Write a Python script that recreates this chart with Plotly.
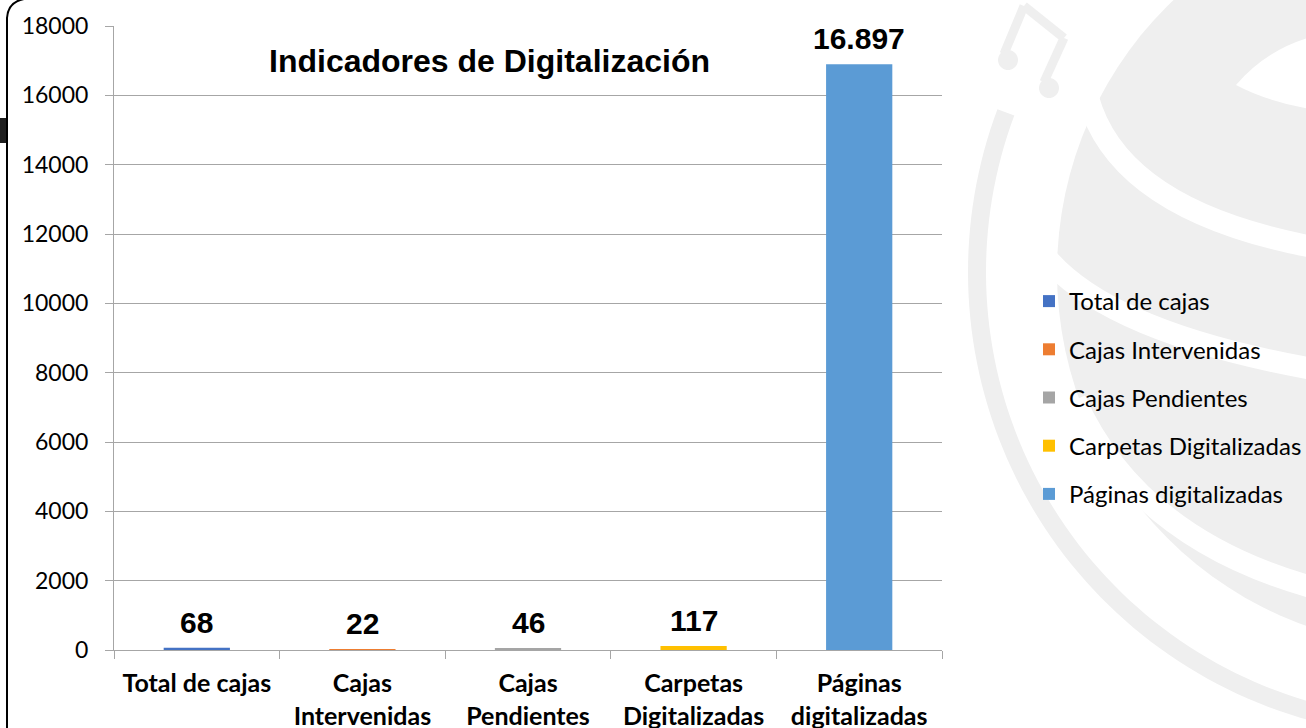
import math
import plotly.graph_objects as go

# ---------------- data ----------------
categories = ["Total de cajas", "Cajas Intervenidas", "Cajas Pendientes",
              "Carpetas Digitalizadas", "Páginas digitalizadas"]
tick_text = ["Total de cajas", "Cajas<br>Intervenidas", "Cajas<br>Pendientes",
             "Carpetas<br>Digitalizadas", "Páginas<br>digitalizadas"]
values = [68, 22, 46, 117, 16897]
colors = ["#4472C4", "#ED7D31", "#A5A5A5", "#FFC000", "#5B9BD5"]
title_text = "Indicadores de Digitalización"

# ---------------- geometry helpers (figure pixels -> paper) ----------------
W, H = 1306, 728
ML, MR, MT, MB = 114, 364, 26, 78
PW, PH = W - ML - MR, H - MT - MB


def px(x):
    return (x - ML) / PW


def py(y):
    return (H - MB - y) / PH


def pth(cmds):
    out = []
    for c in cmds:
        if isinstance(c, str):
            out.append(c)
        else:
            out.append(f"{px(c[0]):.5f},{py(c[1]):.5f}")
    return " ".join(out)


def circle_path(cx, cy, r, n=120):
    cmds = []
    for i in range(n):
        a = 2 * math.pi * i / n
        cmds += ["M" if i == 0 else "L", (cx + r * math.cos(a), cy + r * math.sin(a))]
    cmds.append("Z")
    return pth(cmds)


def ring_path(cx, cy, r0, r1, a0, a1, n=80):
    angs = [math.radians(a0 + (a1 - a0) * i / n) for i in range(n + 1)]
    pts_o = [(cx + r1 * math.cos(a), cy + r1 * math.sin(a)) for a in angs]
    pts_i = [(cx + r0 * math.cos(a), cy + r0 * math.sin(a)) for a in angs][::-1]
    cmds = []
    for i, p in enumerate(pts_o + pts_i):
        cmds += ["M" if i == 0 else "L", p]
    cmds.append("Z")
    return pth(cmds)


WM = "#EFEFEF"
shapes = []
CX, CY = 1433, 272
shapes.append(dict(type="path", path=circle_path(CX, CY, 376), fillcolor=WM,
                   line=dict(width=0), xref="paper", yref="paper", layer="below"))
shapes.append(dict(type="path", path=ring_path(CX, CY, 447, 465, 90, 200.5), fillcolor=WM,
                   line=dict(width=0), xref="paper", yref="paper", layer="below"))
for b in [["M", (1088, 98), "Q", (1120, 215), (1330, 250)],
          ["M", (1045, 256), "Q", (1110, 335), (1330, 372)],
          ["M", (1075, 400), "Q", (1140, 545), (1330, 592)]]:
    shapes.append(dict(type="path", path=pth(b), line=dict(color="white", width=22),
                       xref="paper", yref="paper", layer="below"))
shapes.append(dict(type="path",
                   path=pth(["M", (1236, 85), "Q", (1268, 48), (1315, 36), "L", (1315, 110),
                             "Q", (1268, 102), (1236, 85), "Z"]),
                   fillcolor="white", line=dict(width=0), xref="paper", yref="paper", layer="below"))
for seg in [[(1024, 6), (1064, 38)], [(1024, 6), (1004, 54)], [(1064, 38), (1044, 82)]]:
    shapes.append(dict(type="path", path=pth(["M", seg[0], "L", seg[1]]),
                       line=dict(color=WM, width=9), xref="paper", yref="paper", layer="below"))
for (hx, hy) in [(1008, 60), (1049, 88)]:
    shapes.append(dict(type="path", path=circle_path(hx, hy, 10, 40), fillcolor=WM,
                       line=dict(width=0), xref="paper", yref="paper", layer="below"))
# chart-area border (rounded corner) on the left
shapes.append(dict(type="path", path=pth(["M", (7, 740), "L", (7, 18), "Q", (8, 2), (24, -1)]),
                   line=dict(color="black", width=2), xref="paper", yref="paper", layer="above"))
shapes.append(dict(type="path",
                   path=pth(["M", (-2, 118), "L", (6, 118), "L", (6, 143), "L", (-2, 143), "Z"]),
                   fillcolor="#1E1E1E", line=dict(width=0), xref="paper", yref="paper", layer="above"))

# ---------------- figure ----------------
fig = go.Figure()
for cat, val, col in zip(categories, values, colors):
    fig.add_trace(go.Bar(
        x=[cat], y=[val], name=cat, marker=dict(color=col, line=dict(width=0)),
        legendgroup=cat,
    ))
    # data label above each bar
    fig.add_annotation(x=cat, y=val, xref="x", yref="y", text=f"{val:,}".replace(",", "."),
                       showarrow=False, yanchor="bottom", yshift=7,
                       font=dict(family="Liberation Sans", size=30, color="black", weight="bold"))

fig.add_annotation(text=f"<b>{title_text}</b>", xref="paper", yref="paper",
                   x=px(489), y=py(61), xanchor="center", yanchor="middle", showarrow=False,
                   font=dict(family="Liberation Sans", size=32, color="black"))

axis_gray = "#A6A6A6"
fig.update_layout(
    width=W, height=H,
    margin=dict(l=ML, r=MR, t=MT, b=MB, autoexpand=False),
    paper_bgcolor="white", plot_bgcolor="rgba(0,0,0,0)",
    barmode="overlay", bargap=0.6,
    showlegend=True,
    legend=dict(x=px(1029), y=py(279), xanchor="left", yanchor="top",
                bgcolor="rgba(0,0,0,0)", tracegroupgap=14,
                font=dict(family="Lato", size=24, color="black")),
    shapes=shapes,
    xaxis=dict(
        categoryorder="array", categoryarray=categories,
        tickvals=categories, ticktext=tick_text,
        tickson="boundaries", ticks="outside", ticklen=8, tickcolor=axis_gray, tickwidth=1,
        showline=True, linecolor=axis_gray, linewidth=1, showgrid=False,
        tickfont=dict(family="Lato", size=25, color="black", weight="bold"),
        ticklabelstandoff=11,
    ),
    yaxis=dict(
        range=[0, 18000], dtick=2000, tickformat="d",
        showgrid=True, gridcolor=axis_gray, gridwidth=1,
        ticks="outside", ticklen=8, tickcolor=axis_gray, tickwidth=1,
        showline=True, linecolor=axis_gray, linewidth=1, zeroline=False,
        tickfont=dict(family="Lato", size=23, color="black"),
        ticklabelstandoff=12,
    ),
)

fig.write_html("out.html", config={"displayModeBar": False},
               post_script="document.body.style.margin='0px';")
